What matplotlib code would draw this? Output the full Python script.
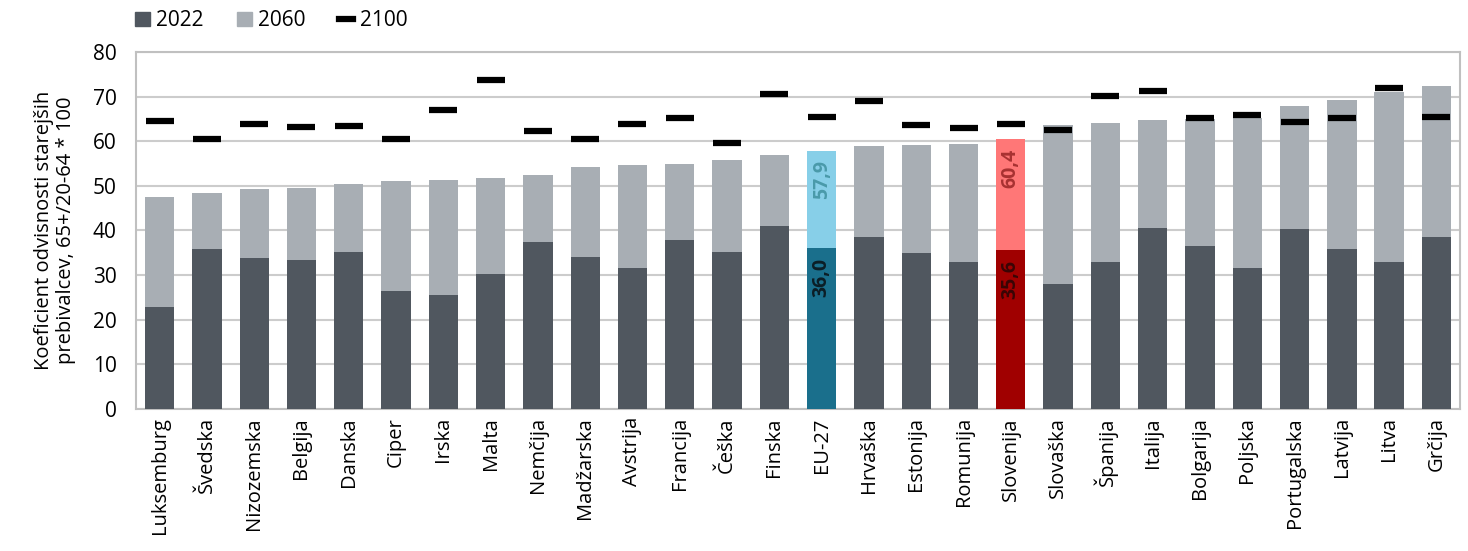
import matplotlib.pyplot as plt
from matplotlib.patches import Patch
from matplotlib.lines import Line2D
import numpy as np

plt.rcParams['font.family'] = ['Open Sans', 'DejaVu Sans']

countries = ["Luksemburg", "Švedska", "Nizozemska", "Belgija", "Danska", "Ciper", "Irska",
             "Malta", "Nemčija", "Madžarska", "Avstrija", "Francija", "Češka", "Finska",
             "EU-27", "Hrvaška", "Estonija", "Romunija", "Slovenija", "Slovaška", "Španija",
             "Italija", "Bolgarija", "Poljska", "Portugalska", "Latvija", "Litva", "Grčija"]
v2022 = [22.9, 35.8, 33.9, 33.4, 35.2, 26.5, 25.5, 30.3, 37.3, 34.1, 31.6, 37.9, 35.2, 41.0,
         36.0, 38.5, 35.0, 33.0, 35.6, 28.0, 32.9, 40.6, 36.5, 31.6, 40.3, 35.8, 32.9, 38.5]
v2060 = [47.5, 48.4, 49.3, 49.5, 50.5, 51.0, 51.3, 51.7, 52.5, 54.3, 54.6, 54.9, 55.8, 56.8,
         57.9, 58.9, 59.2, 59.4, 60.4, 63.6, 64.1, 64.8, 64.9, 65.2, 67.9, 69.2, 71.0, 72.4]
v2100 = [64.5, 60.4, 63.9, 63.3, 63.5, 60.5, 66.9, 73.8, 62.4, 60.4, 63.9, 65.2, 59.5, 70.6,
         65.4, 69.0, 63.7, 63.0, 63.9, 62.6, 70.1, 71.3, 65.3, 65.8, 64.2, 65.1, 72.0, 65.4]

dark = "#50575f"
light = "#a8aeb4"
c2022 = [dark] * len(countries)
c2060 = [light] * len(countries)
eu = countries.index("EU-27")
si = countries.index("Slovenija")
c2022[eu], c2060[eu] = "#1a6f8c", "#87cfe8"
c2022[si], c2060[si] = "#a00000", "#ff7777"

fig = plt.figure(figsize=(14.68, 5.51), dpi=100)
ax = fig.add_axes([0.0926, 0.258, 0.902, 0.6476])

x = np.arange(len(countries))
w = 0.62
ax.bar(x, v2060, w, color=c2060, zorder=2)
ax.bar(x, v2022, w, color=c2022, zorder=3)
ax.plot(x, v2100, linestyle="none", marker="_", markersize=19.5, mew=4.5, color="black", zorder=4)

# highlighted labels, just under the top of each segment
for i, lo_col, hi_col in [(eu, "#0b1e26", "#4a9aaa"), (si, "#3a0505", "#a83232")]:
    for val, col in [(v2022[i], lo_col), (v2060[i], hi_col)]:
        ax.annotate(f"{val:.1f}".replace(".", ","), (x[i], val), xytext=(0, -7),
                    textcoords="offset points", rotation=90, ha="center", va="top",
                    fontsize=14, fontweight="bold", color=col, zorder=5)

ax.set_xlim(-0.5, len(countries) - 0.5)
ax.set_ylim(0, 80)
ax.set_yticks(range(0, 81, 10))
ax.set_xticks(x)
ax.set_xticklabels(countries, rotation=90, fontsize=14.5)
ax.tick_params(axis="y", labelsize=15, length=0, pad=14)
ax.tick_params(axis="x", length=0, pad=6)
ax.yaxis.grid(True, color="#cccccc", linewidth=1.5, zorder=0)
ax.set_axisbelow(True)
for s in ax.spines.values():
    s.set_color("#c0c0c0")
    s.set_linewidth(1.5)

ax.set_ylabel("Koeficient odvisnosti starejših\nprebivalcev, 65+/20-64 * 100", fontsize=14.5,
              labelpad=12, linespacing=1.15)

handles = [Patch(color=dark), Patch(color=light),
           Line2D([0], [0], color="black", linewidth=4.5)]
fig.legend(handles, ["2022", "2060", "2100"], loc="upper left", bbox_to_anchor=(0.0795, 1.015),
           ncol=3, frameon=False, fontsize=15, handlelength=0.7, handleheight=0.7,
           handletextpad=0.3, columnspacing=1.6)

fig.savefig("out.png", dpi=100)
